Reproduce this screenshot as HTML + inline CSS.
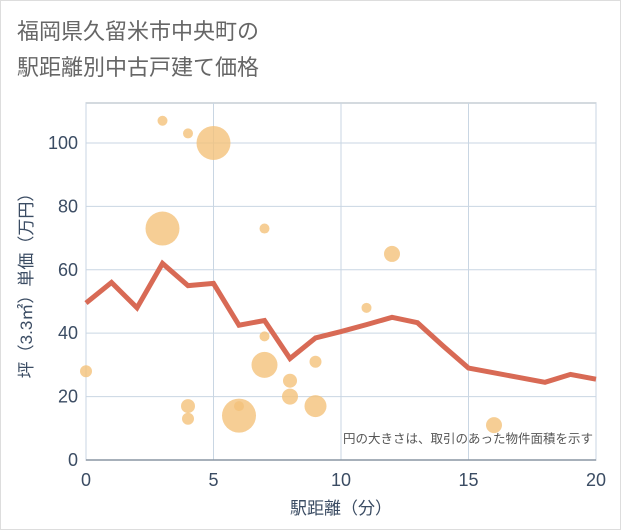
<!DOCTYPE html>
<html><head><meta charset="utf-8"><style>
body{margin:0;background:#fff;}
#wrap{position:relative;width:619px;height:528px;border:1px solid #ddd;background:#fff;font-family:"Liberation Sans","Noto Sans CJK JP",sans-serif;}
#title{position:absolute;left:16px;top:13px;font-size:22px;line-height:36px;color:#666;}
</style></head><body>
<div id="wrap">
<div id="title">福岡県久留米市中央町の<br>駅距離別中古戸建て価格</div>
<svg id="chart" width="621" height="530" style="position:absolute;left:-1px;top:-1px"></svg>
</div>
<script>
const xTicks=[0,5,10,15,20];
const yTicks=[0,20,40,60,80,100];
const lineX=[0,1,2,3,4,5,6,7,8,9,10,11,12,13,14,15,16,17,18,19,20];
const lineY=[49.5,56,48,62,55,55.7,42.5,44,32,38.5,40.5,42.7,45,43.3,36,29,27.5,26,24.5,27,25.5];
const bubX=[3,4,5,3,7,12,11,7,0,7,9,8,8,9,4,4,6,6,16];
const bubY=[107,103,100,73,73,65,48,39,28,30,31,25,20,17,17,13,14,17,11];
const bubR=[5,5,17,17,5,8,5,5,6,13,6,7,8,11,7,6,17,5,8];
const L=86,R=596,T=103,B=460,XMAX=20,YMAX=112.6;
const sx=v=>L+(R-L)*v/XMAX, sy=v=>B-(B-T)*v/YMAX;
const svg=document.getElementById('chart');const NS='http://www.w3.org/2000/svg';
function mk(t,a,p){const e=document.createElementNS(NS,t);for(const k in a)e.setAttribute(k,a[k]);(p||svg).appendChild(e);return e;}
const bg=mk('rect',{x:L,y:T,width:R-L,height:B-T,fill:'#fff',stroke:'#aab4bf'});

xTicks.forEach(v=>{const g=mk('line',{x1:sx(v),x2:sx(v),y1:T,y2:B,stroke:'#c9d6e3'});

const t=mk('text',{x:sx(v),y:B+26,'text-anchor':'middle','font-size':18,fill:'#3b4c63'});t.textContent=v;
});
yTicks.forEach(v=>{const g=mk('line',{x1:L,x2:R,y1:sy(v),y2:sy(v),stroke:'#c9d6e3'});

const t=mk('text',{x:L-8,y:sy(v)+6,'text-anchor':'end','font-size':18,fill:'#3b4c63'});t.textContent=v;
});
const ax=mk('line',{x1:L,x2:R,y1:B,y2:B,stroke:'#8a96a3','stroke-width':1.5});

bubX.forEach((x,i)=>{const c=mk('circle',{cx:sx(x),cy:sy(bubY[i]),r:bubR[i],fill:'#f4c27a','fill-opacity':0.8});
});
const pl=mk('polyline',{points:lineX.map((x,i)=>sx(x)+','+sy(lineY[i])).join(' '),fill:'none',stroke:'#d86a55','stroke-width':5,'stroke-linejoin':'miter'});

const note=mk('text',{x:R-3,y:443,'text-anchor':'end','font-size':12.5,fill:'#555'});note.textContent='円の大きさは、取引のあった物件面積を示す';

const xt=mk('text',{x:(L+R)/2,y:514,'text-anchor':'middle','font-size':17,fill:'#3b4c63'});xt.textContent='駅距離（分）';

const yt=mk('text',{x:0,y:0,'text-anchor':'middle','font-size':17,fill:'#3b4c63',transform:'translate(32,'+((T+B)/2)+') rotate(-90)'});yt.textContent='坪（3.3㎡）単価（万円）';

</script>
</body></html>
